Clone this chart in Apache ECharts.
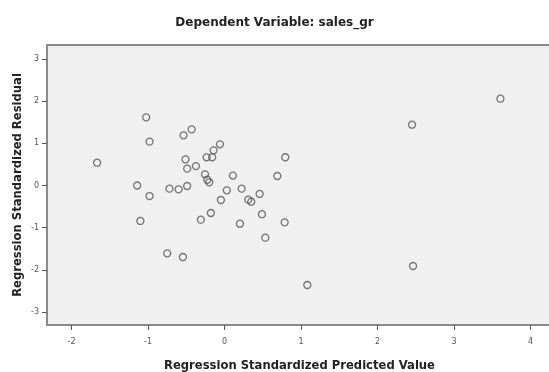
<!DOCTYPE html>
<html>
<head>
<meta charset="utf-8">
<script src="https://cdn.jsdelivr.net/npm/echarts@6/dist/echarts.min.js"></script>
<style>html,body{margin:0;padding:0;background:#fff}#c{width:549px;height:372px}</style>
</head>
<body>
<div id="c"></div>
<script>
var predicted = [-1.665,-1.024,-0.98,-0.535,-0.43,-0.06,-0.143,-0.234,-0.161,-0.51,-0.488,-0.374,-0.255,-0.226,-0.20,0.11,0.794,0.69,-1.142,-0.72,-0.60,-0.488,-0.98,0.03,0.224,0.459,0.31,0.349,-0.047,0.489,0.786,0.533,0.201,-0.178,-0.309,-1.10,-0.749,-0.544,3.606,2.451,2.464,1.082];
var residual  = [0.54,1.616,1.04,1.19,1.33,0.976,0.834,0.668,0.668,0.62,0.40,0.46,0.265,0.137,0.076,0.235,0.67,0.225,0.0,-0.075,-0.09,-0.012,-0.25,-0.115,-0.075,-0.20,-0.336,-0.384,-0.344,-0.68,-0.873,-1.236,-0.905,-0.652,-0.81,-0.84,-1.607,-1.694,2.057,1.441,-1.908,-2.358];
var xTicks = [-2,-1,0,1,2,3,4];
var yTicks = [-3,-2,-1,0,1,2,3];
var titleText = 'Dependent Variable: sales_gr';
var xName = 'Regression Standardized Predicted Value';
var yName = 'Regression Standardized Residual';

var points = predicted.map(function(v,i){return [v, residual[i]];});
var chart = echarts.init(document.getElementById('c'), null, {renderer:'canvas'});
var font = 'DejaVu Sans';
chart.setOption({
  animation:false,
  backgroundColor:'#ffffff',
  title:{text:titleText,left:'center',top:12,textStyle:{fontFamily:font,fontSize:12,fontWeight:'bold',color:'#222'}},
  grid:{left:47,top:45,right:-3,bottom:47,outerBoundsMode:'none',containLabel:false,show:true,backgroundColor:'#f0f0f0',borderColor:'#8a8a8a',borderWidth:2},
  xAxis:{type:'value',min:-2.32,max:4.28,
    name:xName,nameLocation:'middle',nameGap:35,nameMoveOverlap:false,
    nameTextStyle:{fontFamily:font,fontSize:11.6,fontWeight:'bold',color:'#222'},
    axisLine:{show:false,onZero:false},splitLine:{show:false},
    axisTick:{show:true,length:5,lineStyle:{color:'#555'},customValues:xTicks},
    axisLabel:{fontFamily:font,fontSize:8,color:'#555',margin:13,customValues:xTicks}},
  yAxis:{type:'value',min:-3.306,max:3.33,
    name:yName,nameLocation:'middle',nameGap:23,nameRotate:90,nameMoveOverlap:false,
    nameTextStyle:{fontFamily:font,fontSize:11.6,fontWeight:'bold',color:'#222'},
    axisLine:{show:false,onZero:false},splitLine:{show:false},
    axisTick:{show:true,length:5,lineStyle:{color:'#555'},customValues:yTicks},
    axisLabel:{fontFamily:font,fontSize:8,color:'#555',margin:8,customValues:yTicks}},
  series:[{type:'scatter',data:points,symbol:'circle',symbolSize:7,
    itemStyle:{color:'rgba(0,0,0,0)',borderColor:'#555',borderWidth:1.3}}]
});
</script>
</body>
</html>
